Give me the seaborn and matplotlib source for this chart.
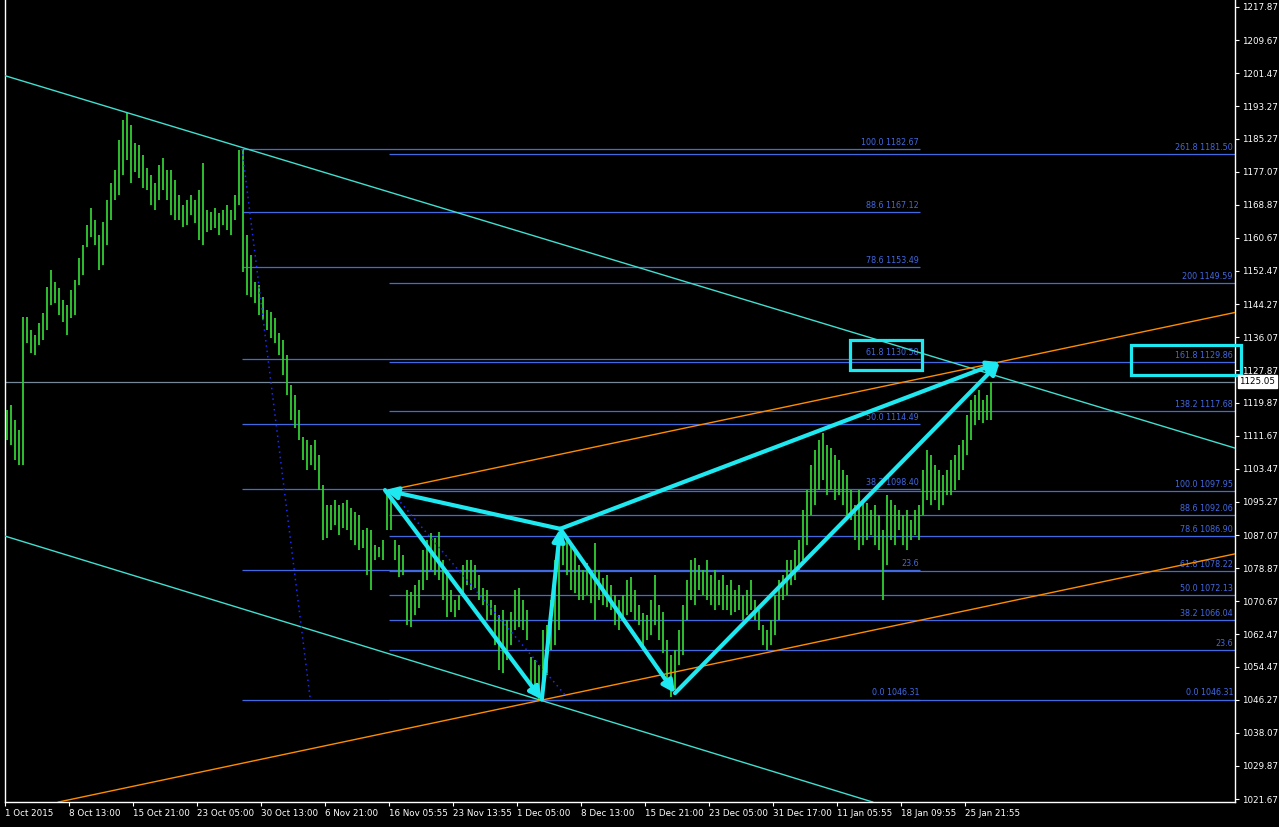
import matplotlib
matplotlib.use("Agg")
import matplotlib.pyplot as plt
import matplotlib.transforms as mtransforms
from matplotlib.patches import Rectangle
import seaborn as sns
import pandas as pd

sns.set_theme(style="dark", rc={"axes.facecolor": "black", "figure.facecolor": "black"})
plt.rcParams['font.family'] = ['DejaVu Sans']

# price bars (one bar per 4 px of the original chart), high / low
highs = [
    1118.0, 1119.3, 1115.6, 1113.1, 1141.1, 1141.1, 1137.9, 1136.6, 1139.6, 1142.1,
    1148.5, 1152.7, 1149.7, 1148.3, 1145.3, 1144.0, 1147.8, 1150.2, 1155.7, 1158.9,
    1163.9, 1168.1, 1165.1, 1161.4, 1164.6, 1170.1, 1174.3, 1177.5, 1184.9, 1189.9,
    1191.6, 1188.6, 1184.2, 1183.7, 1181.2, 1178.0, 1176.3, 1174.3, 1178.7, 1180.5,
    1177.5, 1177.5, 1175.0, 1171.3, 1168.8, 1170.1, 1171.3, 1170.1, 1172.5, 1179.2,
    1167.6, 1167.1, 1168.1, 1166.8, 1167.6, 1168.8, 1167.6, 1171.3, 1182.4, 1182.7,
    1161.4, 1156.4, 1149.7, 1149.0, 1146.0, 1142.8, 1142.3, 1140.8, 1137.1, 1135.4,
    1131.7, 1124.2, 1121.8, 1118.0, 1111.4, 1110.6, 1109.4, 1110.6, 1106.9, 1099.5,
    1094.5, 1094.5, 1095.8, 1094.5, 1095.0, 1095.8, 1093.8, 1092.8, 1092.0, 1088.3,
    1088.8, 1088.3, 1084.6, 1084.1, 1085.8, 1098.0, 1095.8, 1085.8, 1084.6, 1082.1,
    1073.4, 1072.9, 1074.7, 1075.9, 1083.4, 1085.8, 1087.6, 1086.3, 1087.8, 1080.9,
    1078.4, 1073.4, 1071.0, 1072.2, 1079.6, 1080.9, 1080.9, 1079.6, 1077.2, 1073.9,
    1073.4, 1071.0, 1069.7, 1067.3, 1068.5, 1066.0, 1068.0, 1073.4, 1073.9, 1071.0,
    1068.5, 1056.9, 1056.1, 1054.9, 1063.5, 1064.8, 1071.0, 1080.9, 1084.6, 1088.0,
    1085.8, 1084.6, 1083.4, 1079.6, 1078.4, 1080.1, 1077.2, 1085.1, 1078.4, 1076.4,
    1077.2, 1074.7, 1072.2, 1071.0, 1072.2, 1075.9, 1076.7, 1073.4, 1069.7, 1067.8,
    1067.3, 1071.0, 1077.2, 1069.7, 1068.0, 1061.1, 1057.4, 1058.6, 1063.5, 1069.7,
    1075.9, 1080.9, 1081.4, 1079.6, 1078.4, 1080.9, 1077.2, 1078.4, 1075.9, 1077.2,
    1074.7, 1075.9, 1073.4, 1074.7, 1072.2, 1073.4, 1075.9, 1071.0, 1068.5, 1064.8,
    1063.5, 1066.0, 1072.2, 1075.9, 1077.2, 1080.9, 1080.9, 1083.4, 1085.8, 1093.3,
    1098.2, 1104.4, 1108.1, 1110.6, 1112.3, 1109.4, 1108.6, 1106.9, 1105.7, 1103.2,
    1101.9, 1098.2, 1094.5, 1098.2, 1095.8, 1095.0, 1093.3, 1094.5, 1092.0, 1088.3,
    1097.0, 1095.8, 1094.5, 1093.3, 1092.0, 1093.3, 1090.8, 1093.3, 1094.5, 1103.2,
    1108.1, 1106.9, 1104.4, 1103.2, 1101.9, 1103.2, 1105.7, 1106.9, 1109.4, 1110.6,
    1116.8, 1120.5, 1121.8, 1123.0, 1120.5, 1121.8, 1125.05,
]
lows = [
    1110.6, 1109.4, 1105.7, 1104.4, 1104.4, 1134.6, 1132.2, 1131.7, 1134.1, 1135.4,
    1137.9, 1144.0, 1144.5, 1141.6, 1139.8, 1136.6, 1140.8, 1141.6, 1149.0, 1151.5,
    1158.4, 1160.9, 1158.9, 1152.7, 1154.0, 1158.9, 1165.1, 1170.1, 1171.3, 1176.3,
    1180.0, 1174.3, 1177.0, 1175.5, 1173.0, 1172.5, 1168.8, 1167.6, 1170.1, 1172.5,
    1170.1, 1166.3, 1165.1, 1165.1, 1163.4, 1163.9, 1166.3, 1164.4, 1160.2, 1158.9,
    1162.1, 1162.6, 1163.1, 1161.4, 1163.9, 1162.6, 1161.4, 1165.1, 1168.8, 1152.2,
    1146.5, 1146.0, 1144.5, 1141.6, 1140.3, 1137.9, 1135.9, 1134.6, 1131.7, 1126.7,
    1121.8, 1115.6, 1113.6, 1110.6, 1105.7, 1103.2, 1104.4, 1103.2, 1098.2, 1085.8,
    1086.3, 1088.3, 1089.6, 1087.1, 1088.8, 1088.3, 1085.8, 1084.6, 1083.4, 1083.9,
    1077.2, 1073.4, 1080.9, 1081.6, 1080.9, 1088.3, 1088.3, 1080.9, 1076.7, 1077.2,
    1064.8, 1064.3, 1067.3, 1069.0, 1073.4, 1075.9, 1078.4, 1077.2, 1075.9, 1071.0,
    1066.8, 1068.0, 1066.8, 1068.5, 1071.7, 1074.7, 1073.4, 1073.9, 1071.0, 1069.7,
    1066.0, 1067.3, 1059.8, 1053.6, 1052.9, 1056.1, 1059.8, 1063.5, 1064.3, 1063.5,
    1061.1, 1049.9, 1047.4, 1046.31, 1051.2, 1052.4, 1058.6, 1059.8, 1063.5, 1079.6,
    1077.2, 1073.4, 1072.7, 1071.0, 1071.0, 1072.2, 1070.2, 1066.0, 1071.0, 1069.7,
    1069.2, 1068.5, 1064.8, 1063.5, 1066.0, 1067.3, 1068.0, 1066.0, 1064.8, 1059.8,
    1061.1, 1062.3, 1064.8, 1061.1, 1057.9, 1051.2, 1046.9, 1048.7, 1054.9, 1057.4,
    1066.0, 1071.0, 1069.7, 1073.4, 1072.2, 1071.0, 1069.7, 1068.5, 1069.7, 1068.5,
    1068.5, 1067.3, 1068.0, 1068.5, 1066.0, 1067.3, 1068.5, 1066.0, 1063.5, 1059.8,
    1058.6, 1059.8, 1062.3, 1066.0, 1071.0, 1072.2, 1074.7, 1075.9, 1078.4, 1080.9,
    1084.6, 1092.0, 1094.5, 1098.2, 1100.7, 1097.0, 1098.2, 1095.8, 1097.0, 1094.5,
    1092.0, 1090.8, 1085.8, 1083.4, 1084.6, 1085.8, 1087.1, 1084.6, 1083.4, 1071.0,
    1079.6, 1085.8, 1084.6, 1088.3, 1084.6, 1083.4, 1085.8, 1087.1, 1085.8, 1092.0,
    1095.8, 1094.5, 1095.8, 1093.3, 1094.5, 1097.0, 1097.0, 1098.2, 1100.7, 1103.2,
    1106.9, 1110.6, 1114.3, 1115.6, 1114.8, 1115.6, 1115.6,
]
last_price = 1125.05

date_labels = ['1 Oct 2015', '8 Oct 13:00', '15 Oct 21:00', '23 Oct 05:00', '30 Oct 13:00',
               '6 Nov 21:00', '16 Nov 05:55', '23 Nov 13:55', '1 Dec 05:00', '8 Dec 13:00',
               '15 Dec 21:00', '23 Dec 05:00', '31 Dec 17:00', '11 Jan 05:55', '18 Jan 09:55',
               '25 Jan 21:55']
price_ticks = [1217.87, 1209.67, 1201.47, 1193.27, 1185.27, 1177.07, 1168.87, 1160.67,
               1152.47, 1144.27, 1136.07, 1127.87, 1119.87, 1111.67, 1103.47, 1095.27,
               1087.07, 1078.87, 1070.67, 1062.47, 1054.47, 1046.27, 1038.07, 1029.87,
               1021.67]

# fibonacci retracement (left) and expansion (right)
fib_ret_levels = [1182.67, 1167.12, 1153.49, 1130.58, 1114.49, 1098.40, 1078.49, 1046.31]
fib_ret_labels = ['100.0 1182.67', '88.6 1167.12', '78.6 1153.49', '61.8 1130.58',
                  '50.0 1114.49', '38.2 1098.40', '23.6', '0.0 1046.31']
fib_ext_levels = [1181.50, 1149.59, 1129.86, 1117.68, 1097.95, 1092.06, 1086.90, 1078.22,
                  1072.13, 1066.04, 1058.50, 1046.31]
fib_ext_labels = ['261.8 1181.50', '200 1149.59', '161.8 1129.86', '138.2 1117.68',
                  '100.0 1097.95', '88.6 1092.06', '78.6 1086.90', '61.8 1078.22',
                  '50.0 1072.13', '38.2 1066.04', '23.6', '0.0 1046.31']

# XABCD pattern points (bar index, price)
pat_x = [94.5, 133.7, 138.3, 167.0, 248.2]
pat_y = [1098.2, 1046.3, 1088.6, 1047.9, 1129.9]

BG = 'black'
BAR = '#32CD32'
FIB = '#4169E1'
CYAN = '#1EE8F0'
TEAL = '#40E0D0'
ORANGE = '#FF8C00'

fig = plt.figure(figsize=(12.79, 8.27), dpi=100)
fig.patch.set_facecolor(BG)
ax = fig.add_axes([5 / 1279, 25 / 827, 1230 / 1279, 802 / 827])
ax.set_facecolor(BG)

bars = pd.DataFrame({'x': range(len(highs)), 'high': highs, 'low': lows})

# price line
ax.axhline(last_price, color='#778899', lw=0.9, zorder=1)

# fib lines
ax.hlines(fib_ret_levels, 58.75, 228.25, color=FIB, lw=0.9, zorder=2)
ax.hlines(fib_ext_levels, 95.5, 307, color=FIB, lw=0.9, zorder=2)
for lv, lab in zip(fib_ret_levels, fib_ret_labels):
    ax.annotate(lab, (228.0, lv), xytext=(0, 1.5), textcoords='offset points',
                ha='right', va='bottom', color=FIB, fontsize=5.8, zorder=3)
for lv, lab in zip(fib_ext_levels, fib_ext_labels):
    ax.annotate(lab, (306.5, lv), xytext=(0, 1.5), textcoords='offset points',
                ha='right', va='bottom', color=FIB, fontsize=5.8, zorder=3)

# bars
ax.vlines(bars['x'], bars['low'], bars['high'], color=BAR, lw=1.3, zorder=4)

# channel lines
sns.lineplot(x=[-0.5, 307], y=[1200.85, 1108.6], color=TEAL, lw=1, ax=ax, zorder=5)
sns.lineplot(x=[-0.5, 216.5], y=[1086.8, 1020.9], color=TEAL, lw=1, ax=ax, zorder=5)
sns.lineplot(x=[94.75, 307], y=[1098.0, 1142.2], color=ORANGE, lw=1, ax=ax, zorder=5)
sns.lineplot(x=[12.75, 307], y=[1020.9, 1082.4], color=ORANGE, lw=1, ax=ax, zorder=5)

# zigzag dotted lines
ax.plot([58.75, 75.75], [1182.7, 1046.9], color='#1A2CFF', lw=1.1, ls=(0, (1, 2.5)), zorder=5)
ax.plot([95.75, 140.0], [1098.2, 1046.9], color='#1A2CFF', lw=1.1, ls=(0, (1, 2.5)), zorder=5)

# pattern arrows
arrow_kw = dict(arrowstyle='-|>', color=CYAN, lw=3, mutation_scale=18, shrinkA=0, shrinkB=0)
segments = [(0, 1), (1, 2), (2, 3), (3, 4), (2, 4), (2, 0)]
for a, b in segments:
    ax.annotate('', xy=(pat_x[b], pat_y[b]), xytext=(pat_x[a], pat_y[a]),
                arrowprops=arrow_kw, zorder=6)

# highlight boxes
ax.add_patch(Rectangle((210.75, 1127.95), 18.0, 7.45, fill=False, ec=CYAN, lw=2.3, zorder=7))
ax.add_patch(Rectangle((281.0, 1126.7), 27.5, 7.4, fill=False, ec=CYAN, lw=2.3, zorder=7,
                       clip_on=False))

ax.set_xlim(-0.5, 307)
ax.set_ylim(1020.93, 1219.6)

ax.set_xticks([16 * k - 0.5 for k in range(len(date_labels))])
ax.set_xticklabels(date_labels, ha='left')
ax.yaxis.tick_right()
ax.set_yticks(price_ticks)
ax.set_yticklabels([f'{v:.2f}' for v in price_ticks])
ax.tick_params(axis='x', colors='white', labelcolor='white', length=3, width=0.8,
               labelsize=6.3, pad=2, bottom=True)
ax.tick_params(axis='y', colors='white', labelcolor='white', length=3, width=0.8,
               labelsize=6.3, pad=2, right=True, left=False)
for lab in ax.get_yticklabels():
    lab.set_ha('left')

ax.spines['top'].set_visible(False)
for side in ['left', 'right', 'bottom']:
    ax.spines[side].set_color('white')
    ax.spines[side].set_linewidth(1.0)
ax.grid(False)
ax.set_xlabel('')
ax.set_ylabel('')

# current price tag
trans = mtransforms.blended_transform_factory(ax.transAxes, ax.transData)
ax.text(1.0035, last_price, f'{last_price:.2f}', transform=trans, ha='left', va='center',
        fontsize=6.3, color='black', zorder=8,
        bbox=dict(boxstyle='square,pad=0.2', fc='white', ec='white'))

fig.savefig('out.png', dpi=100, facecolor=BG)
